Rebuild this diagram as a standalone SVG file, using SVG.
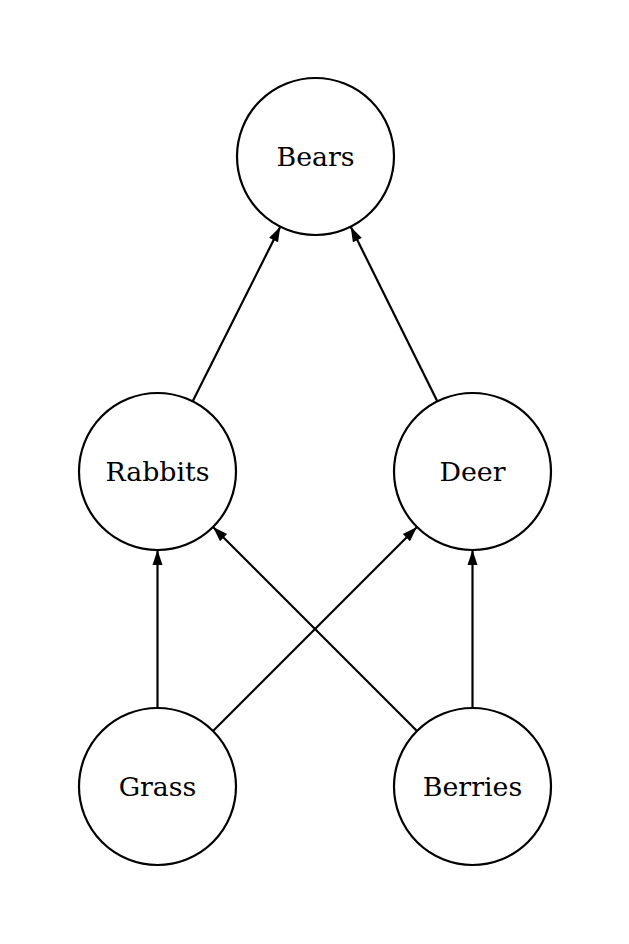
<svg xmlns="http://www.w3.org/2000/svg" width="629" height="944" viewBox="0 0 629 944">
<style>
.node circle{fill:#fff;stroke:#000;stroke-width:2.2}
.node text{font-family:"DejaVu Serif",serif;font-size:26.8px;text-anchor:middle;dominant-baseline:central;fill:#000}
.edge{stroke:#000;stroke-width:2.2;fill:none;marker-end:url(#ah)}
</style>
<defs>
<marker id="ah" markerUnits="userSpaceOnUse" markerWidth="16" markerHeight="12" refX="15" refY="5" orient="auto" viewBox="0 0 16 10">
<path d="M0,0 L15,5 L0,10 z" fill="#000"/>
</marker>
</defs>
<rect width="629" height="944" fill="#fff"/>
<g transform="translate(0.5,0.5)">
<g id="connectors">
<line class="edge" x1="192.2" y1="400.8" x2="279.8" y2="226.2"/>
<line class="edge" x1="436.8" y1="400.8" x2="350.2" y2="226.2"/>
<line class="edge" x1="157" y1="707.5" x2="157" y2="549.5"/>
<line class="edge" x1="472" y1="707.5" x2="472" y2="549.5"/>
<line class="edge" x1="212.5" y1="730.5" x2="416.5" y2="526.5"/>
<line class="edge" x1="416.5" y1="730.5" x2="212.5" y2="526.5"/>
</g>
<g id="bears" class="node"><circle cx="315" cy="156" r="78.5"/><text x="315" y="156">Bears</text></g>
<g id="rabbits" class="node"><circle cx="157" cy="471" r="78.5"/><text x="157" y="471">Rabbits</text></g>
<g id="deer" class="node"><circle cx="472" cy="471" r="78.5"/><text x="472" y="471">Deer</text></g>
<g id="grass" class="node"><circle cx="157" cy="786" r="78.5"/><text x="157" y="786">Grass</text></g>
<g id="berries" class="node"><circle cx="472" cy="786" r="78.5"/><text x="472" y="786">Berries</text></g>
</g>
</svg>
